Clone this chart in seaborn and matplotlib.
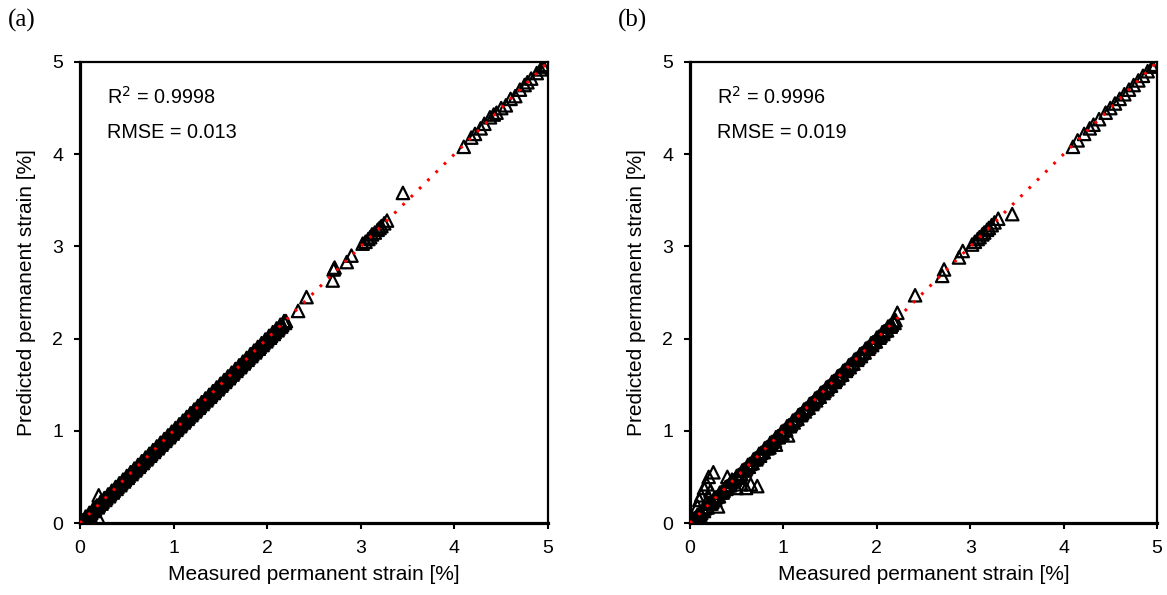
import numpy as np
import pandas as pd
import matplotlib
matplotlib.use("Agg")
import matplotlib.pyplot as plt
import seaborn as sns

sns.set_theme(style="white")
plt.rcParams['font.family'] = ['Liberation Sans', 'DejaVu Sans']
plt.rcParams['text.color'] = 'black'
plt.rcParams['axes.labelcolor'] = 'black'
plt.rcParams['xtick.color'] = 'black'
plt.rcParams['ytick.color'] = 'black'

# ---------------- data ----------------
dense_measured = [0.00, 0.02, 0.04, 0.06, 0.08, 0.10, 0.12, 0.14, 0.16, 0.18, 0.20, 0.22, 0.24, 0.26, 0.28,
                  0.30, 0.32, 0.34, 0.36, 0.38, 0.40, 0.42, 0.44, 0.46, 0.48, 0.50, 0.52, 0.54, 0.56, 0.58,
                  0.60, 0.62, 0.64, 0.66, 0.68, 0.70, 0.72, 0.74, 0.76, 0.78, 0.80, 0.82, 0.84, 0.86, 0.88,
                  0.90, 0.92, 0.94, 0.96, 0.98, 1.00, 1.02, 1.04, 1.06, 1.08, 1.10, 1.12, 1.14, 1.16, 1.18,
                  1.20, 1.22, 1.24, 1.26, 1.28, 1.30, 1.32, 1.34, 1.36, 1.38, 1.40, 1.42, 1.44, 1.46, 1.48,
                  1.50, 1.52, 1.54, 1.56, 1.58, 1.60, 1.62, 1.64, 1.66, 1.68, 1.70, 1.72, 1.74, 1.76, 1.78,
                  1.80, 1.82, 1.84, 1.86, 1.88, 1.90, 1.92, 1.94, 1.96, 1.98, 2.00, 2.02, 2.04, 2.06, 2.08,
                  2.10, 2.12, 2.14, 2.16, 2.18, 2.20]
dense_pred_a = [0.01, 0.03, 0.03, 0.07, 0.07, 0.11, 0.11, 0.15, 0.15, 0.19, 0.19, 0.23, 0.23, 0.27, 0.27,
                0.31, 0.31, 0.35, 0.35, 0.39, 0.39, 0.43, 0.43, 0.47, 0.47, 0.51, 0.51, 0.55, 0.55, 0.59,
                0.59, 0.63, 0.63, 0.67, 0.67, 0.71, 0.71, 0.75, 0.75, 0.79, 0.79, 0.83, 0.83, 0.87, 0.87,
                0.91, 0.91, 0.95, 0.95, 0.99, 0.99, 1.03, 1.03, 1.07, 1.07, 1.11, 1.11, 1.15, 1.15, 1.19,
                1.19, 1.23, 1.23, 1.27, 1.27, 1.31, 1.31, 1.35, 1.35, 1.39, 1.39, 1.43, 1.43, 1.47, 1.47,
                1.51, 1.51, 1.55, 1.55, 1.59, 1.59, 1.63, 1.63, 1.67, 1.67, 1.71, 1.71, 1.75, 1.75, 1.79,
                1.79, 1.83, 1.83, 1.87, 1.87, 1.91, 1.91, 1.95, 1.95, 1.99, 1.99, 2.03, 2.03, 2.07, 2.07,
                2.11, 2.11, 2.15, 2.15, 2.19, 2.19]
dense_pred_b = [0.00, 0.03, 0.04, 0.06, 0.09, 0.10, 0.11, 0.15, 0.16, 0.17, 0.21, 0.22, 0.23, 0.27, 0.28,
                0.29, 0.33, 0.34, 0.35, 0.39, 0.40, 0.41, 0.45, 0.46, 0.47, 0.51, 0.52, 0.53, 0.57, 0.58,
                0.59, 0.63, 0.64, 0.65, 0.69, 0.70, 0.71, 0.75, 0.76, 0.77, 0.81, 0.82, 0.83, 0.87, 0.88,
                0.89, 0.93, 0.94, 0.95, 0.99, 1.00, 1.01, 1.05, 1.06, 1.07, 1.11, 1.12, 1.13, 1.17, 1.18,
                1.19, 1.23, 1.24, 1.25, 1.29, 1.30, 1.31, 1.35, 1.36, 1.37, 1.41, 1.42, 1.43, 1.47, 1.48,
                1.49, 1.53, 1.54, 1.55, 1.59, 1.60, 1.61, 1.65, 1.66, 1.67, 1.71, 1.72, 1.73, 1.77, 1.78,
                1.79, 1.83, 1.84, 1.85, 1.89, 1.90, 1.91, 1.95, 1.96, 1.97, 2.01, 2.02, 2.03, 2.07, 2.08,
                2.09, 2.13, 2.14, 2.15, 2.19, 2.20]

# second dense group (interleaved measurements, slightly below/above the line)
dense_measured2 = [0.03, 0.07, 0.11, 0.15, 0.19, 0.23, 0.27, 0.31, 0.35, 0.39, 0.43, 0.47, 0.51, 0.55,
                   0.59, 0.63, 0.67, 0.71, 0.75, 0.79, 0.83, 0.87, 0.91, 0.95, 0.99, 1.03, 1.07, 1.11,
                   1.15, 1.19, 1.23, 1.27, 1.31, 1.35, 1.39, 1.43, 1.47, 1.51, 1.55, 1.59, 1.63, 1.67,
                   1.71, 1.75, 1.79, 1.83, 1.87, 1.91, 1.95, 1.99, 2.03, 2.07, 2.11, 2.15, 2.19]
dense_pred2_a = [0.01, 0.05, 0.09, 0.13, 0.17, 0.21, 0.25, 0.29, 0.33, 0.37, 0.41, 0.45, 0.49, 0.53,
                 0.57, 0.61, 0.65, 0.69, 0.73, 0.77, 0.81, 0.85, 0.89, 0.93, 0.97, 1.01, 1.05, 1.09,
                 1.13, 1.17, 1.21, 1.25, 1.29, 1.33, 1.37, 1.41, 1.45, 1.49, 1.53, 1.57, 1.61, 1.65,
                 1.69, 1.73, 1.77, 1.81, 1.85, 1.89, 1.93, 1.97, 2.01, 2.05, 2.09, 2.13, 2.17]
dense_pred2_b = [0.01, 0.05, 0.09, 0.13, 0.17, 0.21, 0.25, 0.29, 0.33, 0.37, 0.41, 0.45, 0.49, 0.53,
                 0.57, 0.61, 0.65, 0.69, 0.73, 0.77, 0.81, 0.85, 0.89, 0.93, 0.97, 1.01, 1.05, 1.09,
                 1.13, 1.17, 1.21, 1.25, 1.29, 1.33, 1.37, 1.41, 1.45, 1.49, 1.53, 1.57, 1.61, 1.65,
                 1.69, 1.73, 1.77, 1.81, 1.85, 1.89, 1.93, 1.97, 2.01, 2.05, 2.09, 2.13, 2.17]

sparse_measured_a = [0.20, 0.20, 2.33, 2.42, 2.70, 2.71, 2.72, 2.85, 2.90, 3.02, 3.05, 3.08, 3.10, 3.12,
                     3.15, 3.18, 3.20, 3.22, 3.25, 3.28, 3.45, 4.10, 4.18, 4.22, 4.28, 4.32, 4.38, 4.42,
                     4.45, 4.50, 4.55, 4.60, 4.65, 4.70, 4.75, 4.78, 4.82, 4.88, 4.92, 4.95, 4.98]
sparse_pred_a = [0.30, 0.05, 2.30, 2.45, 2.63, 2.75, 2.77, 2.83, 2.90, 3.03, 3.05, 3.08, 3.10, 3.13,
                 3.15, 3.18, 3.20, 3.22, 3.25, 3.28, 3.58, 4.08, 4.18, 4.22, 4.28, 4.33, 4.40, 4.43,
                 4.45, 4.50, 4.53, 4.60, 4.63, 4.70, 4.75, 4.78, 4.82, 4.88, 4.92, 4.95, 4.97]

sparse_measured_b = [0.08, 0.10, 0.12, 0.15, 0.18, 0.20, 0.22, 0.25, 0.20, 0.40, 0.45, 0.50, 0.55, 0.60,
                     0.65, 0.72, 0.30, 0.85, 0.92, 1.05, 2.22, 2.41, 2.70, 2.72, 2.88, 2.92, 3.02, 3.05,
                     3.08, 3.10, 3.13, 3.15, 3.18, 3.20, 3.23, 3.26, 3.30, 3.45, 4.10, 4.15, 4.22, 4.28,
                     4.32, 4.38, 4.45, 4.50, 4.55, 4.60, 4.65, 4.70, 4.75, 4.80, 4.85, 4.90, 4.95, 4.98]
sparse_pred_b = [0.18, 0.25, 0.30, 0.38, 0.42, 0.50, 0.35, 0.55, 0.28, 0.50, 0.47, 0.38, 0.42, 0.38,
                 0.42, 0.40, 0.18, 0.82, 0.85, 0.95, 2.28, 2.47, 2.68, 2.75, 2.88, 2.95, 3.02, 3.05,
                 3.08, 3.10, 3.13, 3.15, 3.18, 3.20, 3.23, 3.26, 3.30, 3.35, 4.08, 4.15, 4.22, 4.28,
                 4.32, 4.38, 4.45, 4.50, 4.55, 4.60, 4.65, 4.70, 4.75, 4.80, 4.85, 4.90, 4.95, 4.97]

panel_labels = ["(a)", "(b)"]
r2_texts = ["0.9998", "0.9996"]
rmse_texts = ["0.013", "0.019"]
ticks = [0, 1, 2, 3, 4, 5]

df_a = pd.DataFrame({"measured": dense_measured + dense_measured2 + sparse_measured_a,
                     "predicted": dense_pred_a + dense_pred2_a + sparse_pred_a})
df_b = pd.DataFrame({"measured": dense_measured + dense_measured2 + sparse_measured_b,
                     "predicted": dense_pred_b + dense_pred2_b + sparse_pred_b})

fig = plt.figure(figsize=(11.67, 5.95), dpi=100)
ax_a = fig.add_axes([80 / 1167, 72 / 595, 468 / 1167, 461 / 595])
ax_b = fig.add_axes([690 / 1167, 72 / 595, 467 / 1167, 461 / 595])

for ax, df, lab, r2, rmse in zip([ax_a, ax_b], [df_a, df_b], panel_labels, r2_texts, rmse_texts):
    ax.plot([0, 5], [0, 5], color="red", linestyle=(0, (0.9, 2.9)), linewidth=2.2, zorder=3)
    sns.scatterplot(data=df, x="measured", y="predicted", ax=ax, marker="^", s=80,
                    facecolor="none", edgecolor="black", linewidth=1.6, zorder=2, legend=False)
    ax.set_xlim(0, 5)
    ax.set_ylim(0, 5)
    ax.set_xticks(ticks)
    ax.set_yticks(ticks)
    ax.tick_params(direction="out", length=4, width=1.5, labelsize=14, pad=8,
                   bottom=True, left=True, top=False, right=False)
    for side in ["left", "bottom"]:
        ax.spines[side].set_linewidth(2.3)
    for side in ["top", "right"]:
        ax.spines[side].set_linewidth(1.6)
    for sp in ax.spines.values():
        sp.set_color("black")
        sp.set_visible(True)
    ax.set_xlabel("Measured permanent strain [%]", fontsize=15, labelpad=6)
    ax.set_ylabel("Predicted permanent strain [%]", fontsize=15, labelpad=12)
    ax.text(0.29, 4.62, "R$^{2}$ = " + r2, fontsize=14.3, va="center", ha="left")
    ax.text(0.29, 4.23, "RMSE = " + rmse, fontsize=14.3, va="center", ha="left")
    ax.text(-0.155, 1.09, lab, transform=ax.transAxes, fontsize=18,
            family=["Liberation Serif", "DejaVu Serif"], va="center", ha="left")

fig.savefig("out.png", dpi=100)
